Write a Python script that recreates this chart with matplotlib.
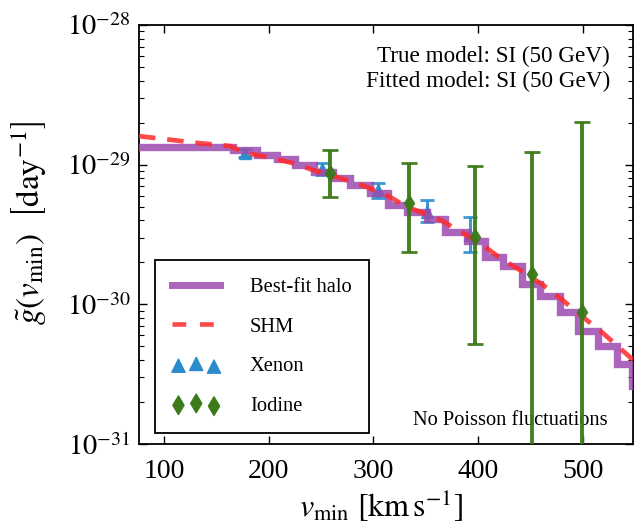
import matplotlib
matplotlib.use("Agg")
import matplotlib.pyplot as plt
import numpy as np
from matplotlib.lines import Line2D
from matplotlib.ticker import LogLocator

plt.rcParams['font.family'] = 'serif'
plt.rcParams['font.serif'] = ['Liberation Serif', 'DejaVu Serif']
plt.rcParams['mathtext.fontset'] = 'stix'

# ---- data ----
# Best-fit halo: step function (left edges, levels)
fit_edges = [0, 165.9, 188.8, 207.9, 225.1, 243.2, 261.3, 277.6, 296.7, 313.8,
             332.0, 351.1, 368.3, 389.3, 406.4, 423.6, 441.8, 459.0, 478.0,
             495.2, 514.3, 532.5, 546.8, 565.0]
fit_levels = [1.345e-29, 1.28e-29, 1.18e-29, 1.10e-29, 1.0e-29, 8.9e-30, 8.07e-30,
              7.19e-30, 6.31e-30, 5.18e-30, 4.62e-30, 4.05e-30, 3.27e-30, 2.82e-30,
              2.17e-30, 1.87e-30, 1.39e-30, 1.14e-30, 8.77e-31, 6.41e-31, 5.01e-31,
              3.73e-31, 2.60e-31, 2.60e-31]

# SHM curve
shm_v = [76, 108.6, 131.5, 163, 174.5, 196.4, 222.2, 242.2, 268, 293.8, 315.8, 332,
         360.6, 380.7, 401.7, 420.8, 439.9, 461.8, 480.9, 500, 519.1, 535.3, 548]
shm_g = [1.60e-29, 1.50e-29, 1.43e-29, 1.36e-29, 1.23e-29, 1.14e-29, 1.03e-29,
         9.16e-30, 8.03e-30, 6.92e-30, 5.87e-30, 4.98e-30, 4.15e-30, 3.41e-30,
         2.75e-30, 2.15e-30, 1.76e-30, 1.38e-30, 1.07e-30, 8.12e-31, 6.24e-31,
         4.87e-31, 4.0e-31]

# Xenon points
xe_v = [177.3, 250.8, 304.3, 351.1, 392.1]
xe_g = [1.21e-29, 9.31e-30, 6.59e-30, 4.58e-30, 3.14e-30]
xe_lo = [1.14e-29, 8.43e-30, 5.78e-30, 3.89e-30, 2.37e-30]
xe_hi = [1.29e-29, 1.03e-29, 7.39e-30, 5.58e-30, 4.23e-30]

# Iodine points
io_v = [258.5, 333.9, 396.9, 451.3, 499.0]
io_g = [8.73e-30, 5.32e-30, 3.03e-30, 1.65e-30, 8.83e-31]
io_lo = [5.87e-30, 2.37e-30, 5.21e-31, 1e-33, 1e-33]
io_hi = [1.27e-29, 1.03e-29, 9.8e-30, 1.23e-29, 2.02e-29]

x_ticks = [100, 200, 300, 400, 500]
y_ticks = [1e-31, 1e-30, 1e-29, 1e-28]
y_ticklabels = [r'$10^{-31}$', r'$10^{-30}$', r'$10^{-29}$', r'$10^{-28}$']

# ---- figure ----
fig = plt.figure(figsize=(6.35, 5.30), dpi=100)
ax = fig.add_axes([139/635, 1-444/530, (633-139)/635, (444-25)/530])

purple = '#9c4aae'
red = '#ff2a2a'
blue = '#2b8ccc'
green = '#3c7a1a'

xe_err = [np.array(xe_g) - np.array(xe_lo), np.array(xe_hi) - np.array(xe_g)]
ax.errorbar(xe_v, xe_g, yerr=xe_err, fmt='^', color=blue, ms=8.5, mec=blue,
            elinewidth=2.2, capsize=5, capthick=2, zorder=2, alpha=0.9)

ax.step(fit_edges, fit_levels, where='post', color=purple, lw=5.3, alpha=0.85,
        zorder=3, solid_joinstyle='miter')
ax.plot(shm_v, shm_g, color=red, lw=3.4, ls=(0, (3.5, 2.5)), alpha=0.85, zorder=4)

io_err = [np.array(io_g) - np.array(io_lo), np.array(io_hi) - np.array(io_g)]
ax.errorbar(io_v, io_g, yerr=io_err, fmt='d', color=green, ms=8.5, mec=green,
            elinewidth=2.8, capsize=6, capthick=2, zorder=5, alpha=0.95)

ax.set_yscale('log')
ax.set_xlim(76, 548)
ax.set_ylim(1e-31, 1e-28)
ax.set_xticks(x_ticks)
ax.set_xticklabels([str(t) for t in x_ticks])
ax.set_yticks(y_ticks)
ax.set_yticklabels(y_ticklabels)
ax.yaxis.set_minor_locator(LogLocator(base=10, subs=np.arange(2, 10)))

ax.tick_params(which='both', direction='in', top=True, right=True)
ax.tick_params(which='major', length=6, width=1, labelsize=20, pad=11)
ax.tick_params(axis='y', which='major', labelsize=20.5, pad=6)
ax.tick_params(which='minor', length=3.5, width=0.8, labelleft=False)
for s in ax.spines.values():
    s.set_linewidth(1.3)

ax.set_xlabel(r'$v_{\rm min}\ \left[\mathrm{km\,s}^{-1}\right]$', fontsize=23, labelpad=5)
ax.xaxis.set_label_coords(0.49, -0.105)
ax.set_ylabel(r'$\tilde{g}(v_{\rm min})\ \ \left[\mathrm{day}^{-1}\right]$', fontsize=24)
ax.yaxis.set_label_coords(-0.182, 0.527)

ax.text(0.953, 0.912, 'True model: SI (50 GeV)', transform=ax.transAxes,
        ha='right', va='baseline', fontsize=16.7)
ax.text(0.953, 0.852, 'Fitted model: SI (50 GeV)', transform=ax.transAxes,
        ha='right', va='baseline', fontsize=16.7)
ax.text(0.949, 0.045, 'No Poisson fluctuations', transform=ax.transAxes,
        ha='right', va='baseline', fontsize=14.7)

h_fit = Line2D([], [], color=purple, lw=5, alpha=0.85)
h_shm = Line2D([], [], color=red, lw=3.3, ls=(0, (3, 3)), alpha=0.85)
h_xe = ax.scatter([], [], marker='^', s=90, color=blue)
h_io = ax.scatter([], [], marker='d', s=90, color=green)
leg = ax.legend([h_fit, h_shm, h_xe, h_io], ['Best-fit halo', 'SHM', 'Xenon', 'Iodine'],
                loc='lower left', bbox_to_anchor=(0.032, 0.026), fontsize=14.8,
                scatterpoints=3, handlelength=2.33, handletextpad=1.45,
                labelspacing=0.98, borderpad=0.85, borderaxespad=0,
                fancybox=False, framealpha=1, edgecolor='black')
leg.get_frame().set_linewidth(1.3)

fig.savefig('out.png', dpi=100)
